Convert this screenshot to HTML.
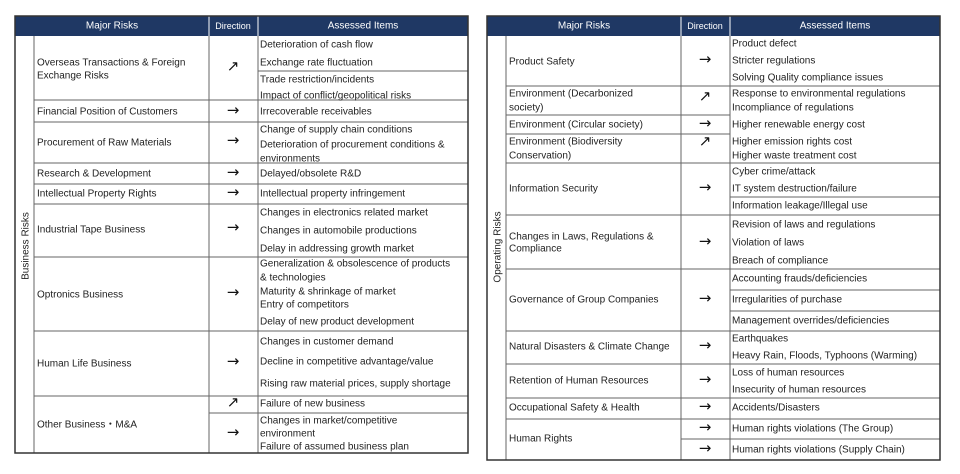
<!DOCTYPE html>
<html><head><meta charset="utf-8"><style>
html,body{margin:0;padding:0;background:#fff;width:960px;height:474px;overflow:hidden}
svg{display:block}
text{font-family:"Liberation Sans",sans-serif;font-size:10px;fill:#222;dominant-baseline:central}
.h{fill:#fff;text-anchor:middle;font-size:10px}
.d{text-anchor:middle;font-family:"DejaVu Sans",sans-serif;font-size:15px;fill:#111}
.l{stroke:#666;stroke-width:1}
.b{stroke:#333;stroke-width:1.5;fill:none}
</style></head><body>
<svg width="960" height="474" viewBox="0 0 960 474">
<!-- LEFT TABLE -->
<rect x="15" y="16" width="453" height="20" fill="#1f3864"/>
<line x1="209" y1="16" x2="209" y2="36" stroke="#fff"/>
<line x1="258" y1="16" x2="258" y2="36" stroke="#fff"/>
<text class="h" x="112" y="26">Major Risks</text>
<text class="h" x="233" y="26" style="font-size:9px">Direction</text>
<text class="h" x="363" y="26">Assessed Items</text>
<g class="l">
<line x1="34" y1="36" x2="34" y2="453"/>
<line x1="209" y1="36" x2="209" y2="453"/>
<line x1="258" y1="36" x2="258" y2="453"/>
<line x1="258" y1="71" x2="468" y2="71"/>
<line x1="34" y1="100" x2="468" y2="100"/>
<line x1="34" y1="122" x2="468" y2="122"/>
<line x1="34" y1="163" x2="468" y2="163"/>
<line x1="34" y1="184" x2="468" y2="184"/>
<line x1="34" y1="204" x2="468" y2="204"/>
<line x1="34" y1="257" x2="468" y2="257"/>
<line x1="34" y1="331" x2="468" y2="331"/>
<line x1="34" y1="396" x2="468" y2="396"/>
<line x1="209" y1="413" x2="468" y2="413"/>
</g>
<rect class="b" x="15" y="16" width="453" height="437"/>
<text transform="translate(26,246) rotate(-90)" style="text-anchor:middle">Business Risks</text>
<text x="37" y="63">Overseas Transactions &amp; Foreign</text>
<text x="37" y="76">Exchange Risks</text>
<text x="37" y="112">Financial Position of Customers</text>
<text x="37" y="143">Procurement of Raw Materials</text>
<text x="37" y="174">Research &amp; Development</text>
<text x="37" y="194">Intellectual Property Rights</text>
<text x="37" y="230">Industrial Tape Business</text>
<text x="37" y="295">Optronics Business</text>
<text x="37" y="364">Human Life Business</text>
<text x="37" y="425">Other Business・M&amp;A</text>
<g>
<text class="d" x="233" y="66">↗</text>
<text class="d" x="233" y="110">→</text>
<text class="d" x="233" y="140">→</text>
<text class="d" x="233" y="172">→</text>
<text class="d" x="233" y="192">→</text>
<text class="d" x="233" y="227">→</text>
<text class="d" x="233" y="292">→</text>
<text class="d" x="233" y="361">→</text>
<text class="d" x="233" y="402">↗</text>
<text class="d" x="233" y="432">→</text>
</g>
<g>
<text x="260" y="45">Deterioration of cash flow</text>
<text x="260" y="63">Exchange rate fluctuation</text>
<text x="260" y="80">Trade restriction/incidents</text>
<text x="260" y="96">Impact of conflict/geopolitical risks</text>
<text x="260" y="112">Irrecoverable receivables</text>
<text x="260" y="130">Change of supply chain conditions</text>
<text x="260" y="145">Deterioration of procurement conditions &amp;</text>
<text x="260" y="159">environments</text>
<text x="260" y="174">Delayed/obsolete R&amp;D</text>
<text x="260" y="194">Intellectual property infringement</text>
<text x="260" y="213">Changes in electronics related market</text>
<text x="260" y="231">Changes in automobile productions</text>
<text x="260" y="249">Delay in addressing growth market</text>
<text x="260" y="264">Generalization &amp; obsolescence of products</text>
<text x="260" y="278">&amp; technologies</text>
<text x="260" y="292">Maturity &amp; shrinkage of market</text>
<text x="260" y="305">Entry of competitors</text>
<text x="260" y="322">Delay of new product development</text>
<text x="260" y="342">Changes in customer demand</text>
<text x="260" y="362">Decline in competitive advantage/value</text>
<text x="260" y="384">Rising raw material prices, supply shortage</text>
<text x="260" y="404">Failure of new business</text>
<text x="260" y="421">Changes in market/competitive</text>
<text x="260" y="434">environment</text>
<text x="260" y="447">Failure of assumed business plan</text>
</g>

<!-- RIGHT TABLE -->
<rect x="487" y="16" width="453" height="20" fill="#1f3864"/>
<line x1="681" y1="16" x2="681" y2="36" stroke="#fff"/>
<line x1="730" y1="16" x2="730" y2="36" stroke="#fff"/>
<text class="h" x="584" y="26">Major Risks</text>
<text class="h" x="705" y="26" style="font-size:9px">Direction</text>
<text class="h" x="835" y="26">Assessed Items</text>
<g class="l">
<line x1="506" y1="36" x2="506" y2="460"/>
<line x1="681" y1="36" x2="681" y2="460"/>
<line x1="730" y1="36" x2="730" y2="460"/>
<line x1="506" y1="86" x2="940" y2="86"/>
<line x1="506" y1="115" x2="730" y2="115"/>
<line x1="506" y1="134" x2="730" y2="134"/>
<line x1="506" y1="163" x2="940" y2="163"/>
<line x1="730" y1="197" x2="940" y2="197"/>
<line x1="506" y1="215" x2="940" y2="215"/>
<line x1="506" y1="269" x2="940" y2="269"/>
<line x1="730" y1="290" x2="940" y2="290"/>
<line x1="730" y1="311" x2="940" y2="311"/>
<line x1="506" y1="331" x2="940" y2="331"/>
<line x1="506" y1="364" x2="940" y2="364"/>
<line x1="506" y1="398" x2="940" y2="398"/>
<line x1="506" y1="419" x2="940" y2="419"/>
<line x1="681" y1="439" x2="940" y2="439"/>
</g>
<rect class="b" x="487" y="16" width="453" height="444"/>
<text transform="translate(498,247) rotate(-90)" style="text-anchor:middle">Operating Risks</text>
<text x="509" y="62">Product Safety</text>
<text x="509" y="94">Environment (Decarbonized</text>
<text x="509" y="108">society)</text>
<text x="509" y="125">Environment (Circular society)</text>
<text x="509" y="142">Environment (Biodiversity</text>
<text x="509" y="156">Conservation)</text>
<text x="509" y="189">Information Security</text>
<text x="509" y="237">Changes in Laws, Regulations &amp;</text>
<text x="509" y="249">Compliance</text>
<text x="509" y="300">Governance of Group Companies</text>
<text x="509" y="347">Natural Disasters &amp; Climate Change</text>
<text x="509" y="381">Retention of Human Resources</text>
<text x="509" y="408">Occupational Safety &amp; Health</text>
<text x="509" y="439">Human Rights</text>
<g>
<text class="d" x="705" y="59">→</text>
<text class="d" x="705" y="96">↗</text>
<text class="d" x="705" y="123">→</text>
<text class="d" x="705" y="141">↗</text>
<text class="d" x="705" y="187">→</text>
<text class="d" x="705" y="241">→</text>
<text class="d" x="705" y="298">→</text>
<text class="d" x="705" y="345">→</text>
<text class="d" x="705" y="379">→</text>
<text class="d" x="705" y="406">→</text>
<text class="d" x="705" y="427">→</text>
<text class="d" x="705" y="448">→</text>
</g>
<g>
<text x="732" y="44">Product defect</text>
<text x="732" y="61">Stricter regulations</text>
<text x="732" y="78">Solving Quality compliance issues</text>
<text x="732" y="94">Response to environmental regulations</text>
<text x="732" y="108">Incompliance of regulations</text>
<text x="732" y="125">Higher renewable energy cost</text>
<text x="732" y="142">Higher emission rights cost</text>
<text x="732" y="156">Higher waste treatment cost</text>
<text x="732" y="172">Cyber crime/attack</text>
<text x="732" y="189">IT system destruction/failure</text>
<text x="732" y="206">Information leakage/Illegal use</text>
<text x="732" y="225">Revision of laws and regulations</text>
<text x="732" y="243">Violation of laws</text>
<text x="732" y="261">Breach of compliance</text>
<text x="732" y="279">Accounting frauds/deficiencies</text>
<text x="732" y="300">Irregularities of purchase</text>
<text x="732" y="321">Management overrides/deficiencies</text>
<text x="732" y="339">Earthquakes</text>
<text x="732" y="356">Heavy Rain, Floods, Typhoons (Warming)</text>
<text x="732" y="373">Loss of human resources</text>
<text x="732" y="390">Insecurity of human resources</text>
<text x="732" y="408">Accidents/Disasters</text>
<text x="732" y="429">Human rights violations (The Group)</text>
<text x="732" y="450">Human rights violations (Supply Chain)</text>
</g>
</svg>
</body></html>
